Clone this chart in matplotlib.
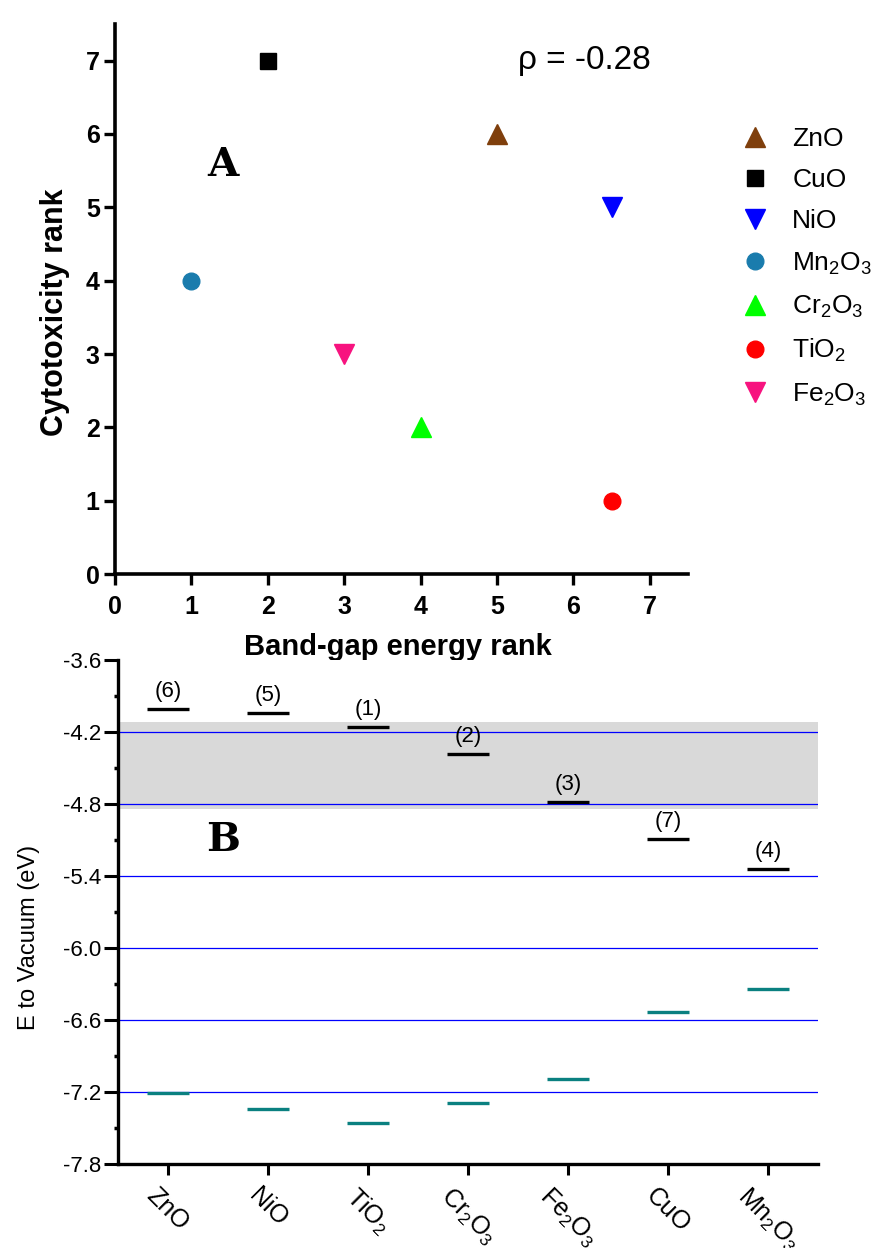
import matplotlib
matplotlib.use('Agg')
import matplotlib.pyplot as plt
from matplotlib.lines import Line2D
from matplotlib.ticker import MultipleLocator, FormatStrFormatter
import numpy as np

plt.rcParams['font.family'] = ['Liberation Sans', 'DejaVu Sans']
plt.rcParams['mathtext.fontset'] = 'custom'
plt.rcParams['mathtext.rm'] = 'Liberation Sans'
plt.rcParams['mathtext.it'] = 'Liberation Sans:italic'
plt.rcParams['mathtext.bf'] = 'Liberation Sans:bold'
plt.rcParams['mathtext.default'] = 'regular'
plt.rcParams['axes.unicode_minus'] = False

# Panel A: cytotoxicity rank vs band-gap energy rank
oxides = ['ZnO', 'CuO', 'NiO', 'Mn$_2$O$_3$', 'Cr$_2$O$_3$', 'TiO$_2$', 'Fe$_2$O$_3$']
bandgapRank = [5, 2, 6.5, 1, 4, 6.5, 3]
cytotoxRank = [6, 7, 5, 4, 2, 1, 3]
markers = ['^', 's', 'v', 'o', '^', 'o', 'v']
colors = ['#7f3f0c', '#000000', '#0000ff', '#1a7cad', '#00ff00', '#ff0000', '#f7137f']
rho = -0.28

# Panel B: band edge energies relative to vacuum
bandOxides = ['ZnO', 'NiO', 'TiO$_2$', 'Cr$_2$O$_3$', 'Fe$_2$O$_3$', 'CuO', 'Mn$_2$O$_3$']
ecLevels = [-4.01, -4.04, -4.16, -4.38, -4.78, -5.09, -5.34]
evLevels = [-7.21, -7.34, -7.46, -7.29, -7.09, -6.53, -6.34]
rankLabels = ['(6)', '(5)', '(1)', '(2)', '(3)', '(7)', '(4)']
redoxRange = (-4.84, -4.12)

fig = plt.figure(figsize=(8.8, 12.48), dpi=100)

# ---- top panel ----
ax1 = fig.add_axes([0.1307, 0.540, 0.6511, 0.4408])
handles = []
for xv, yv, m, c, name in zip(bandgapRank, cytotoxRank, markers, colors, oxides):
    ms = 12 if m in ('s', 'o') else 14
    ax1.plot(xv, yv, linestyle='none', marker=m, color=c, markersize=ms, clip_on=False)
    handles.append(Line2D([], [], linestyle='none', marker=m, color=c, markersize=ms, label=name))

ax1.set_xlim(0, 7.5)
ax1.set_ylim(0, 7.5)
ax1.set_xticks(range(0, 8))
ax1.set_yticks(range(0, 8))
for side in ['top', 'right']:
    ax1.spines[side].set_visible(False)
for side in ['left', 'bottom']:
    ax1.spines[side].set_linewidth(2.6)
ax1.tick_params(direction='out', length=8, width=2.4, labelsize=18)
ax1.tick_params(axis='x', pad=7)
ax1.tick_params(axis='y', pad=3)
for lab in ax1.get_xticklabels() + ax1.get_yticklabels():
    lab.set_fontweight('bold')
ax1.set_xlabel('Band-gap energy rank', fontsize=21, fontweight='bold')
ax1.set_ylabel('Cytotoxicity rank', fontsize=22, fontweight='bold')
ax1.xaxis.set_label_coords(0.494, -0.107)
ax1.yaxis.set_label_coords(-0.0785, 0.476)
ax1.text(6.14, 7.0, 'ρ = ' + str(rho), fontsize=24, ha='center', va='center')

fig.legend(handles=handles, loc='upper left', bbox_to_anchor=(742 / 880, 1 - 127 / 1248),
           frameon=False, fontsize=19, handlelength=1.0, handletextpad=0.9,
           labelspacing=0.65, borderpad=0, borderaxespad=0, numpoints=1)

fig.text(223 / 880, 1 - 165 / 1248, 'A', family='DejaVu Serif', fontweight='bold',
         fontsize=29, ha='center', va='center')

# ---- bottom panel ----
ax2 = fig.add_axes([0.134, 0.0673, 0.7955, 0.4039])
xpos = np.arange(1, len(bandOxides) + 1)
halfWidth = 0.21

ax2.axhspan(redoxRange[0], redoxRange[1], color='#d9d9d9', zorder=0, lw=0)
for yv in [-4.2, -4.8, -5.4, -6.0, -6.6, -7.2]:
    ax2.axhline(yv, color='#0000ff', lw=0.9, zorder=1)

ax2.hlines(ecLevels, xpos - halfWidth, xpos + halfWidth, color='black', lw=2.4, zorder=3)
ax2.hlines(evLevels, xpos - halfWidth, xpos + halfWidth, color='#0a8080', lw=2.4, zorder=3)
for xv, yv, txt in zip(xpos, ecLevels, rankLabels):
    ax2.annotate(txt, (xv, yv), xytext=(0, 5), textcoords='offset points',
                 ha='center', va='bottom', fontsize=16)

ax2.set_xlim(0.5, 7.5)
ax2.set_ylim(-7.8, -3.6)
ax2.set_xticks(xpos)
ax2.set_xticklabels(bandOxides, rotation=-45, ha='center', va='top', fontsize=18)
ax2.yaxis.set_major_locator(MultipleLocator(0.6))
ax2.yaxis.set_minor_locator(MultipleLocator(0.3))
ax2.yaxis.set_major_formatter(FormatStrFormatter('%.1f'))
for side in ['top', 'right']:
    ax2.spines[side].set_visible(False)
for side in ['left', 'bottom']:
    ax2.spines[side].set_linewidth(2.4)
ax2.tick_params(axis='y', which='major', direction='out', length=10, width=2.2, labelsize=16, pad=2)
ax2.tick_params(axis='y', which='minor', direction='out', length=3, width=2.5)
ax2.tick_params(axis='x', which='major', direction='out', length=8, width=2.2, pad=6)
ax2.set_ylabel('E to Vacuum (eV)', fontsize=17)
ax2.yaxis.set_label_coords(-0.111, 0.45)

fig.text(223 / 880, 1 - 840 / 1248, 'B', family='DejaVu Serif', fontweight='bold',
         fontsize=29, ha='center', va='center')

fig.savefig('out.png', dpi=100)
